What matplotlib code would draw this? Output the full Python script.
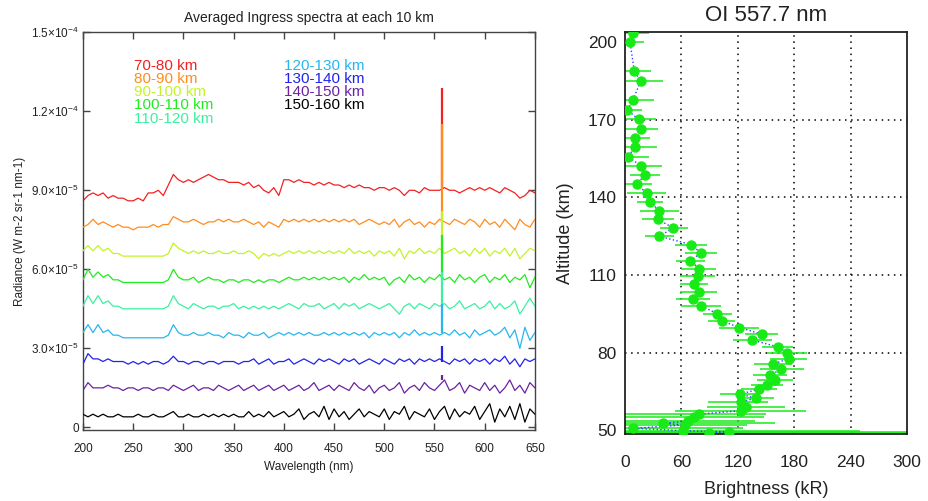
import numpy as np
import matplotlib
matplotlib.use('Agg')
import matplotlib.pyplot as plt

plt.rcParams['font.family'] = ['Liberation Sans', 'DejaVu Sans']
plt.rcParams['mathtext.fontset'] = 'custom'
plt.rcParams['mathtext.rm'] = 'Liberation Sans'
plt.rcParams['mathtext.it'] = 'Liberation Sans'

# wavelength grid of the read-off spectra (nm)
wavelength = np.arange(200, 651, 5)

# averaged radiance per 10 km layer, in units of 1e-5 W m-2 sr-1 nm-1
r70_80 = [8.6, 8.8, 8.9, 8.8, 8.9, 8.7, 8.8, 8.7, 8.7, 8.6,
          8.6, 8.7, 8.6, 8.9, 8.9, 9.0, 8.8, 9.2, 9.6, 9.4,
          9.3, 9.4, 9.3, 9.4, 9.5, 9.6, 9.5, 9.4, 9.4, 9.3,
          9.3, 9.3, 9.2, 9.3, 9.1, 9.2, 9.0, 8.9, 9.1, 8.8,
          9.4, 9.4, 9.3, 9.4, 9.3, 9.3, 9.2, 9.3, 9.2, 9.3,
          9.2, 9.2, 9.1, 9.2, 9.1, 9.2, 9.1, 9.1, 9.0, 9.1,
          9.1, 9.0, 9.1, 9.0, 8.8, 9.0, 9.0, 8.9, 9.1, 9.0,
          9.0, 9.0, 9.1, 9.0, 9.0, 8.9, 9.0, 9.1, 9.0, 9.1,
          9.0, 9.1, 9.0, 8.9, 9.1, 9.0, 8.9, 8.7, 8.8, 9.0, 8.9]
r80_90 = [7.6, 7.7, 7.9, 7.7, 7.8, 7.7, 7.6, 7.7, 7.6, 7.6,
          7.5, 7.6, 7.6, 7.6, 7.7, 7.6, 7.7, 7.7, 8.0, 7.9,
          7.8, 7.8, 7.9, 7.8, 7.7, 7.8, 7.8, 7.9, 7.8, 7.9,
          7.8, 7.8, 7.9, 7.8, 7.7, 7.8, 7.6, 7.8, 7.7, 7.6,
          7.9, 7.8, 7.9, 7.8, 7.9, 7.8, 7.9, 7.8, 7.9, 7.8,
          7.9, 7.8, 7.9, 7.8, 7.9, 7.7, 7.8, 7.9, 7.8, 7.7,
          7.8, 7.7, 7.9, 7.6, 7.8, 7.9, 7.7, 7.8, 7.6, 7.8,
          7.7, 7.9, 7.8, 7.7, 7.9, 7.8, 7.7, 7.9, 7.8, 7.6,
          7.9, 7.7, 7.8, 7.6, 7.9, 7.7, 7.5, 7.9, 7.7, 7.6, 7.9]
r90_100 = [6.7, 6.9, 6.7, 6.9, 6.7, 6.8, 6.6, 6.6, 6.5, 6.5,
           6.5, 6.5, 6.5, 6.5, 6.5, 6.5, 6.5, 6.6, 7.0, 6.8,
           6.7, 6.6, 6.7, 6.6, 6.7, 6.6, 6.6, 6.7, 6.6, 6.6,
           6.7, 6.6, 6.6, 6.7, 6.6, 6.4, 6.6, 6.5, 6.6, 6.5,
           6.6, 6.7, 6.6, 6.7, 6.6, 6.7, 6.6, 6.7, 6.6, 6.7,
           6.6, 6.7, 6.6, 6.8, 6.6, 6.7, 6.6, 6.7, 6.5, 6.7,
           6.6, 6.7, 6.5, 6.8, 6.4, 6.7, 6.6, 6.8, 6.6, 6.7,
           6.6, 6.8, 6.6, 6.7, 6.8, 6.6, 6.7, 6.5, 6.8, 6.6,
           6.8, 6.5, 6.7, 6.6, 6.8, 6.5, 6.8, 6.4, 6.6, 6.8, 6.7]
r100_110 = [5.6, 6.0, 5.7, 5.9, 5.7, 5.8, 5.6, 5.6, 5.5, 5.5,
            5.5, 5.5, 5.5, 5.5, 5.5, 5.5, 5.5, 5.6, 6.0, 5.7,
            5.6, 5.6, 5.7, 5.5, 5.6, 5.7, 5.6, 5.6, 5.5, 5.6,
            5.6, 5.5, 5.6, 5.6, 5.5, 5.6, 5.5, 5.6, 5.6, 5.5,
            5.6, 5.7, 5.6, 5.6, 5.7, 5.6, 5.7, 5.6, 5.7, 5.6,
            5.7, 5.6, 5.7, 5.5, 5.7, 5.6, 5.8, 5.6, 5.7, 5.6,
            5.7, 5.4, 5.6, 5.7, 5.5, 5.8, 5.6, 5.7, 5.5, 5.7,
            5.6, 5.8, 5.6, 5.7, 5.5, 5.8, 5.6, 5.7, 5.5, 5.7,
            5.8, 5.5, 5.7, 5.6, 5.8, 5.5, 5.7, 5.6, 5.8, 5.3, 5.7]
r110_120 = [4.6, 5.0, 4.7, 5.0, 4.7, 4.8, 4.6, 4.6, 4.5, 4.5,
            4.5, 4.5, 4.5, 4.5, 4.5, 4.5, 4.5, 4.6, 5.0, 4.7,
            4.6, 4.5, 4.7, 4.6, 4.5, 4.6, 4.6, 4.5, 4.6, 4.6,
            4.7, 4.5, 4.6, 4.5, 4.6, 4.5, 4.6, 4.5, 4.6, 4.5,
            4.6, 4.7, 4.6, 4.5, 4.7, 4.6, 4.6, 4.7, 4.5, 4.6,
            4.7, 4.5, 4.7, 4.6, 4.7, 4.5, 4.6, 4.7, 4.6, 4.5,
            4.6, 4.7, 4.5, 4.3, 4.6, 4.7, 4.5, 4.7, 4.6, 4.5,
            4.7, 4.6, 4.7, 4.5, 4.6, 4.8, 4.5, 4.6, 4.7, 4.5,
            4.6, 4.8, 4.5, 4.7, 4.5, 4.6, 4.8, 4.3, 4.6, 4.9, 4.6]
r120_130 = [3.6, 3.9, 3.6, 3.9, 3.6, 3.7, 3.5, 3.5, 3.4, 3.4,
            3.4, 3.4, 3.4, 3.4, 3.4, 3.4, 3.4, 3.5, 3.9, 3.6,
            3.5, 3.5, 3.6, 3.5, 3.5, 3.6, 3.5, 3.5, 3.4, 3.6,
            3.5, 3.5, 3.4, 3.6, 3.5, 3.5, 3.6, 3.4, 3.5, 3.6,
            3.5, 3.6, 3.5, 3.6, 3.5, 3.6, 3.5, 3.5, 3.6, 3.5,
            3.6, 3.5, 3.6, 3.5, 3.6, 3.5, 3.6, 3.4, 3.6, 3.5,
            3.6, 3.5, 3.6, 3.4, 3.6, 3.5, 3.7, 3.5, 3.6, 3.5,
            3.6, 3.5, 3.6, 3.5, 3.7, 3.5, 3.6, 3.4, 3.7, 3.5,
            3.6, 3.7, 3.5, 3.6, 3.8, 3.4, 3.7, 3.0, 3.8, 3.3, 3.6]
r130_140 = [2.4, 2.8, 2.6, 2.6, 2.5, 2.6, 2.5, 2.5, 2.5, 2.4,
            2.5, 2.4, 2.5, 2.4, 2.5, 2.5, 2.4, 2.5, 2.7, 2.5,
            2.5, 2.4, 2.5, 2.5, 2.4, 2.5, 2.5, 2.4, 2.5, 2.5,
            2.5, 2.4, 2.5, 2.5, 2.6, 2.4, 2.5, 2.6, 2.4, 2.5,
            2.5, 2.6, 2.4, 2.5, 2.6, 2.5, 2.4, 2.6, 2.5, 2.6,
            2.5, 2.4, 2.6, 2.5, 2.6, 2.4, 2.5, 2.6, 2.5, 2.4,
            2.6, 2.5, 2.4, 2.6, 2.5, 2.6, 2.4, 2.6, 2.5, 2.6,
            2.5, 2.6, 2.5, 2.4, 2.6, 2.5, 2.6, 2.4, 2.6, 2.5,
            2.6, 2.4, 2.6, 2.5, 2.7, 2.4, 2.6, 2.3, 2.6, 2.5, 2.6]
r140_150 = [1.4, 1.7, 1.5, 1.5, 1.5, 1.6, 1.5, 1.5, 1.4, 1.5,
            1.5, 1.4, 1.5, 1.5, 1.4, 1.5, 1.5, 1.4, 1.6, 1.5,
            1.4, 1.5, 1.6, 1.4, 1.5, 1.5, 1.4, 1.6, 1.5, 1.4,
            1.5, 1.6, 1.4, 1.5, 1.6, 1.4, 1.5, 1.6, 1.4, 1.5,
            1.6, 1.4, 1.5, 1.6, 1.4, 1.5, 1.7, 1.4, 1.5, 1.6,
            1.4, 1.6, 1.5, 1.4, 1.7, 1.5, 1.4, 1.6, 1.3, 1.5,
            1.6, 1.4, 1.5, 1.7, 1.3, 1.5, 1.6, 1.4, 1.7, 1.5,
            1.4, 1.6, 1.8, 1.4, 1.5, 1.7, 1.3, 1.6, 1.5, 1.4,
            1.7, 1.4, 1.6, 1.3, 1.5, 1.8, 1.4, 1.6, 1.3, 1.7, 1.5]
r150_160 = [0.5, 0.4, 0.5, 0.4, 0.5, 0.4, 0.4, 0.5, 0.4, 0.4,
            0.4, 0.5, 0.4, 0.4, 0.5, 0.4, 0.4, 0.5, 0.6, 0.4,
            0.4, 0.5, 0.4, 0.4, 0.5, 0.4, 0.5, 0.4, 0.5, 0.4,
            0.5, 0.4, 0.4, 0.6, 0.4, 0.5, 0.4, 0.6, 0.4, 0.5,
            0.6, 0.4, 0.5, 0.7, 0.3, 0.5, 0.6, 0.4, 0.8, 0.3,
            0.7, 0.4, 0.6, 0.3, 0.5, 0.7, 0.4, 0.6, 0.5, 0.4,
            0.7, 0.3, 0.6, 0.5, 0.8, 0.3, 0.6, 0.5, 0.4, 0.7,
            0.3, 0.6, 0.8, 0.3, 0.7, 0.4, 0.6, 0.5, 0.8, 0.3,
            0.6, 0.9, 0.2, 0.7, 0.4, 0.8, 0.3, 0.9, 0.2, 0.7, 0.5]

layers = ['70-80 km', '80-90 km', '90-100 km', '100-110 km', '110-120 km',
          '120-130 km', '130-140 km', '140-150 km', '150-160 km']
# top of the OI 557.7 nm emission spike in each layer (1e-5 units)
line_peak = [12.9, 11.5, 8.2, 7.3, 5.9, 4.7, 3.1, 2.0, 0.8]
line_wl = 557.7

# OI 557.7 nm limb profile
altitude = [203.7, 200.0, 188.8, 185.0, 177.6, 173.8, 170.2, 166.5, 163.0, 159.4,
            155.8, 152.2, 148.6, 145.2, 141.7, 138.3, 134.8, 131.5, 128.2, 125.0,
            121.8, 118.6, 115.5, 112.5, 109.5, 106.5, 103.5, 100.7, 98.0, 95.1,
            92.3, 89.7, 87.1, 84.8, 82.2, 80.0, 77.7, 75.5, 73.5, 71.3,
            69.3, 67.4, 65.8, 64.0, 62.3, 61.0, 59.0, 57.5, 56.2, 55.0,
            53.6, 52.6, 52.0, 50.7, 49.8, 49.4, 48.8]
brightness = [8.2, 5.3, 9.9, 16.7, 8.2, 2.5, 14.5, 16.7, 11.0, 10.3,
              3.2, 17.0, 21.0, 12.4, 23.0, 26.6, 36.5, 35.1, 51.4, 36.5,
              69.9, 80.9, 69.2, 79.0, 78.0, 73.7, 78.4, 72.7, 80.9, 98.2,
              102.9, 121.6, 145.4, 135.5, 162.8, 172.0, 174.5, 157.1, 166.0, 154.3,
              159.6, 151.4, 142.6, 122.4, 139.0, 123.4, 128.7, 123.0, 79.0, 73.4,
              67.4, 40.1, 63.8, 8.2, 61.4, 110.6, 89.7]
bright_lo = [0, 0, 0, 1, 0, 0, 0, 0, 0, 0,
             0, 0, 5.3, 0, 1.8, 13, 16, 18.4, 37, 21,
             53, 64, 54, 60, 58.5, 59, 58.5, 54, 60, 82.6,
             88.6, 100.3, 127.7, 114.6, 145.4, 150.8, 154.3, 137.6, 143.6, 135.8,
             140, 134, 123, 101, 119.5, 88.6, 87, 53, 0, 0,
             0, 0, 0, 0, 0, 0, 0]
bright_hi = [25.6, 20, 28, 40, 31, 17.8, 33, 35, 27, 33.7,
             25.5, 39.4, 37, 29, 43.3, 40.8, 57.8, 52, 67, 52,
             87, 97.6, 85, 96.5, 95.8, 88.6, 97.6, 90.4, 101.8, 113.5,
             117, 142.9, 163.1, 156, 179, 194, 193.3, 177.3, 190.5, 172.7,
             179, 168.5, 161.4, 143.6, 158.9, 152.5, 170, 192.6, 150, 148,
             138, 159, 130, 125, 250, 300, 300]

colors = ['#f52020', '#ff8c1e', '#c4f22a', '#22ea22', '#3cf0a0',
          '#28b6ef', '#2222ee', '#6a22a2', '#000000']
series = [r70_80, r80_90, r90_100, r100_110, r110_120,
          r120_130, r130_140, r140_150, r150_160]

fig = plt.figure(figsize=(9.29, 5.01), dpi=100)
ax1 = fig.add_axes([0.0893, 0.1417, 0.4865, 0.794])
ax2 = fig.add_axes([0.6728, 0.1337, 0.3036, 0.8024])

txt = '#222222'
i_line = int(np.argmin(np.abs(wavelength - 560)))
for k in range(len(series)):
    vals = np.array(series[k]) * 1e-5
    ax1.plot(wavelength, vals, color=colors[k], lw=0.9, zorder=2 + k)
    ax1.vlines(line_wl, vals[i_line], line_peak[k] * 1e-5, color=colors[k],
               lw=1.6, zorder=2 + k)

ax1.set_xlim(200, 650)
ax1.set_ylim(-1e-6, 1.5e-4)
ax1.set_xticks(range(200, 651, 50))
yt = [0, 3e-5, 6e-5, 9e-5, 1.2e-4, 1.5e-4]
ax1.set_yticks(yt)
ax1.set_yticklabels(['0', r'3.0$\times$10$^{-5}$', r'6.0$\times$10$^{-5}$',
                     r'9.0$\times$10$^{-5}$', r'1.2$\times$10$^{-4}$',
                     r'1.5$\times$10$^{-4}$'])
ax1.tick_params(axis='both', direction='in', length=5, width=1, color='#444444',
                top=True, right=True, labelsize=8.5, labelcolor=txt)
ax1.tick_params(axis='x', pad=9)
ax1.tick_params(axis='y', pad=3)
for s in ax1.spines.values():
    s.set_color('#444444')
    s.set_linewidth(1)
ax1.set_title('Averaged Ingress spectra at each 10 km', fontsize=10, color=txt, pad=7)
ax1.set_xlabel('Wavelength (nm)', fontsize=8.5, color=txt, labelpad=5)
ax1.set_ylabel('Radiance (W m-2 sr-1 nm-1)', fontsize=8.5, color=txt, labelpad=4)

# coloured layer labels
row_y = [0.915, 0.882, 0.849, 0.817, 0.781]
for k in range(len(layers)):
    if k < 5:
        xx, yy = 0.113, row_y[k]
    else:
        xx, yy = 0.445, row_y[k - 5]
    ax1.text(xx, yy, layers[k], color=colors[k], fontsize=11,
             transform=ax1.transAxes, va='center', ha='left')

# right panel: brightness profile
green = '#18ea18'
xerr = [np.array(brightness) - np.array(bright_lo),
        np.array(bright_hi) - np.array(brightness)]
ax2.errorbar(brightness, altitude, xerr=xerr, fmt='none', ecolor=green,
             elinewidth=1.1, capsize=0, zorder=2)
ax2.plot(brightness, altitude, color='#3040ff', ls=':', lw=1, zorder=3)
ax2.plot(brightness, altitude, 'o', color=green, ms=6.5, mec=green, zorder=4)

ax2.set_xlim(0, 300)
ax2.set_ylim(48.5, 204)
ax2.set_xticks([0, 60, 120, 180, 240, 300])
ax2.set_yticks([50, 80, 110, 140, 170, 200])
for g in [60, 120, 180, 240]:
    ax2.axvline(g, color='black', ls=(0, (1, 3)), lw=1.1, zorder=1)
for g in [80, 110, 140, 170]:
    ax2.axhline(g, color='black', ls=(0, (1, 3)), lw=1.1, zorder=1)
ax2.tick_params(axis='both', length=0, labelsize=12.5, labelcolor=txt)
ax2.tick_params(axis='x', pad=15)
ax2.tick_params(axis='y', pad=6)
for s in ax2.spines.values():
    s.set_color('#222222')
    s.set_linewidth(1.3)
ax2.set_title('OI 557.7 nm', fontsize=16, color=txt, pad=8)
ax2.set_xlabel('Brightness (kR)', fontsize=13, color=txt, labelpad=8)
ax2.set_ylabel('Altitude (km)', fontsize=13, color=txt, labelpad=10)

fig.savefig('out.png', dpi=100)
